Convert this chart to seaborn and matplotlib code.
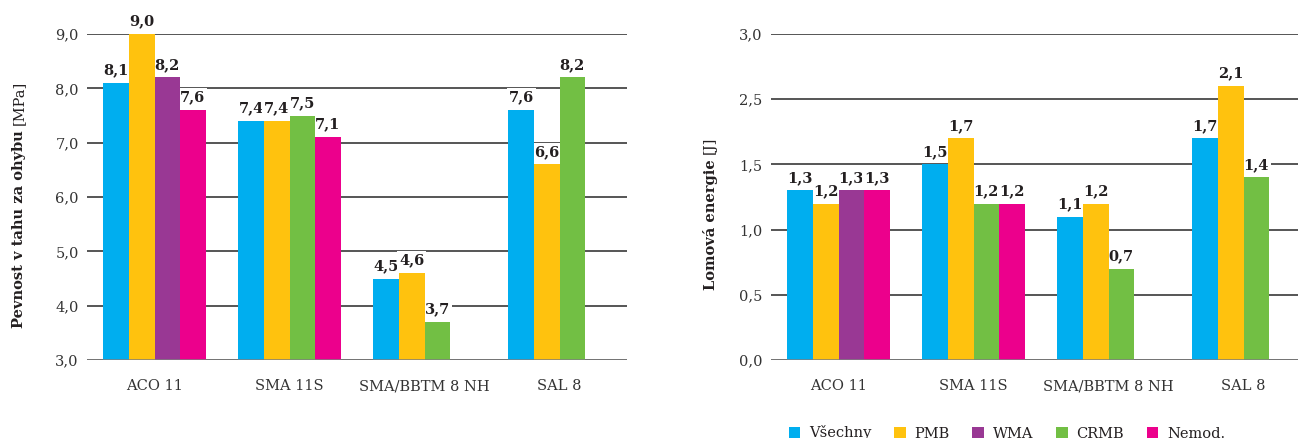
import matplotlib
matplotlib.use("Agg")
import matplotlib.pyplot as plt
import pandas as pd
import seaborn as sns
from matplotlib.patches import Patch

# ---- data -------------------------------------------------------------
categories = ["ACO 11", "SMA 11S", "SMA/BBTM 8 NH", "SAL 8"]
series_names = ["Všechny", "PMB", "WMA", "CRMB", "Nemod."]
series_colors = ["#00AEEF", "#FFC20E", "#993894", "#72BF44", "#EC008C"]

# Pevnost v tahu za ohybu [MPa] (None = mixture not tested)
pevnost_vsechny = [8.1, 7.4, 4.5, 7.6]
pevnost_pmb = [9.0, 7.4, 4.6, 6.6]
pevnost_wma = [8.2, None, None, None]
pevnost_crmb = [None, 7.5, 3.7, 8.2]
pevnost_nemod = [7.6, 7.1, None, None]

# Lomová energie [J]
lomova_vsechny = [1.3, 1.5, 1.1, 1.7]
lomova_pmb = [1.2, 1.7, 1.2, 2.1]
lomova_wma = [1.3, None, None, None]
lomova_crmb = [None, 1.2, 0.7, 1.4]
lomova_nemod = [1.3, 1.2, None, None]

pevnost_ticks = [3.0, 4.0, 5.0, 6.0, 7.0, 8.0, 9.0]
pevnost_ticklabels = ["3,0", "4,0", "5,0", "6,0", "7,0", "8,0", "9,0"]
lomova_ticks = [0.0, 0.5, 1.0, 1.5, 2.0, 2.5]
lomova_ticklabels = ["0,0", "0,5", "1,0", "1,5", "2,5", "3,0"]

pevnost_label = ("Pevnost v tahu za ohybu", "[MPa]")
lomova_label = ("Lomová energie", "[J]")

# ---- styling ----------------------------------------------------------
sns.set_theme(style="white")
plt.rcParams["font.family"] = ["DejaVu Serif"]
TEXT = "#231F20"
GRID = "#555555"
SERIF = "DejaVu Serif"

color_of = dict(zip(series_names, series_colors))
SLOTS = ["s0", "s1", "s2", "s3"]


def long_table(values_by_series):
    """Bars fill each group from the left; missing series leave no gap."""
    rows = []
    for ci, cat in enumerate(categories):
        slot = 0
        for name, vals in zip(series_names, values_by_series):
            v = vals[ci]
            if v is None:
                continue
            rows.append({"category": cat, "series": name,
                         "value": v, "slot": SLOTS[slot]})
            slot += 1
    return pd.DataFrame(rows)


def draw_panel(ax, df, ylim, ticks, ticklabels):
    sns.barplot(data=df, x="category", y="value", hue="slot",
                order=categories, hue_order=SLOTS, dodge=True,
                width=0.756, palette=dict(zip(SLOTS, ["#999999"] * 4)),
                saturation=1, errorbar=None, legend=False, ax=ax,
                zorder=5, linewidth=0)
    for slot, container in zip(SLOTS, ax.containers):
        sub = df[df["slot"] == slot].copy()
        sub["order"] = sub["category"].map(categories.index)
        sub = sub.sort_values("order")
        for bar, name in zip(container, sub["series"]):
            bar.set_facecolor(color_of[name])
            bar.set_edgecolor("none")
        labels = [f"{v:.1f}".replace(".", ",") for v in sub["value"]]
        anns = ax.bar_label(container, labels=labels, padding=4,
                            fontsize=10.5, fontweight="bold", family=SERIF,
                            color=TEXT,
                            bbox=dict(facecolor="white", edgecolor="none",
                                      pad=1.5))
        for a in anns:
            a.set_zorder(4)

    ax.set_ylim(*ylim)
    ax.set_xlim(-0.5, len(categories) - 0.5)
    ax.set_yticks(ticks)
    ax.set_yticklabels(ticklabels)
    ax.set_xlabel("")
    ax.set_ylabel("")
    ax.yaxis.grid(True, color=GRID, linewidth=1.4, zorder=1)
    ax.set_axisbelow(True)
    for s in ax.spines.values():
        s.set_visible(False)
    ax.axhline(ylim[0], color="#7f7f7f", linewidth=2, alpha=0.85, zorder=6)
    ax.tick_params(axis="both", length=0, labelsize=10.5, labelcolor="#333333")
    ax.tick_params(axis="y", pad=6)
    ax.tick_params(axis="x", pad=14)
    for t in ax.get_xticklabels() + ax.get_yticklabels():
        t.set_family(SERIF)


fig = plt.figure(figsize=(12.98, 4.38), dpi=100)
W, H = 1298.0, 438.0
ax1 = fig.add_axes([87 / W, 78 / H, 540 / W, 326 / H])
ax2 = fig.add_axes([771 / W, 78 / H, 540 / W, 326 / H])

pevnost_df = long_table([pevnost_vsechny, pevnost_pmb, pevnost_wma,
                         pevnost_crmb, pevnost_nemod])
lomova_df = long_table([lomova_vsechny, lomova_pmb, lomova_wma,
                        lomova_crmb, lomova_nemod])

draw_panel(ax1, pevnost_df, (3.0, 9.0), pevnost_ticks, pevnost_ticklabels)
draw_panel(ax2, lomova_df, (0.0, 2.5), lomova_ticks, lomova_ticklabels)


# ---- y-axis titles: bold name followed by regular unit ----------------
def axis_title(x_px, ybottom_px, parts):
    bold = fig.text(x_px / W, 1 - ybottom_px / H, parts[0] + " ",
                    rotation=90, ha="center", va="bottom", fontsize=10.5,
                    fontweight="bold", family=SERIF, color=TEXT)
    fig.canvas.draw()
    bb = bold.get_window_extent()
    fig.text(x_px / W, bb.y1 / H, parts[1], rotation=90, ha="center",
             va="bottom", fontsize=10.5, family=SERIF, color=TEXT)


axis_title(19, 328, pevnost_label)
axis_title(710, 290, lomova_label)

# ---- legend -----------------------------------------------------------
handles = [Patch(facecolor=c, edgecolor="none") for c in series_colors]
leg = fig.legend(handles, series_names, loc="center", ncol=5,
                 bbox_to_anchor=(1007 / W, 5 / H), frameon=False,
                 handlelength=0.8, handleheight=0.8, handletextpad=0.6,
                 columnspacing=1.55, borderpad=0,
                 prop={"family": SERIF, "size": 10.5})
for t in leg.get_texts():
    t.set_color(TEXT)

fig.savefig("out.png", dpi=100)
